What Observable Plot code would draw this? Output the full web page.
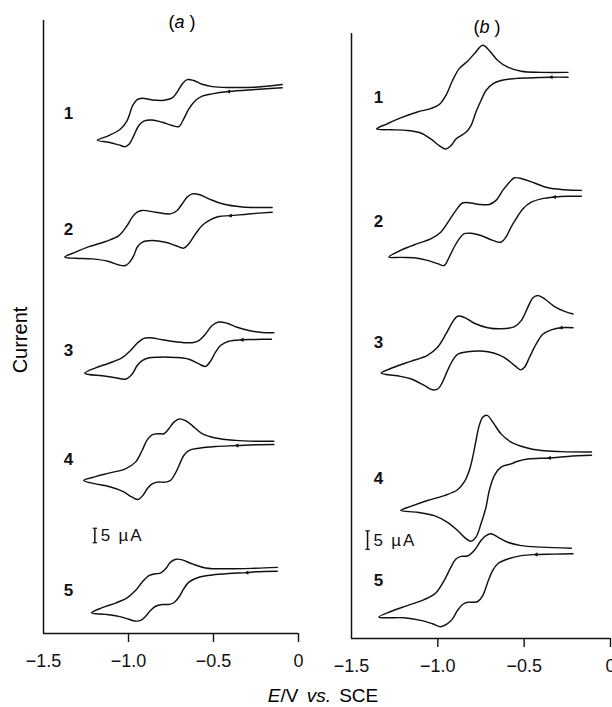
<!DOCTYPE html>
<html><head><meta charset="utf-8">
<script src="https://cdn.jsdelivr.net/npm/d3@7"></script>
<script src="https://cdn.jsdelivr.net/npm/@observablehq/plot@0.6"></script>
<style>
body{margin:0;background:#fff;}
#fig{position:relative;width:612px;height:707px;overflow:hidden;font-family:"Liberation Sans",Arial,Helvetica,sans-serif;color:#000;background:#fff;}
#fig .p{position:absolute;top:0;}
.t{position:absolute;white-space:nowrap;transform:translate(-50%,-50%);}
</style></head><body>
<div id="fig">
  <div class="p" id="pa" style="left:0px"></div>
  <div class="p" id="pb" style="left:306px"></div>
  <div class="t" style="left:182px;top:22px;font-size:18px;">(<i>a</i> )</div>
  <div class="t" style="left:487px;top:27px;font-size:18px;">(<i>b</i> )</div>
  <div class="t" style="left:20px;top:340px;font-size:20px;transform:translate(-50%,-50%) rotate(-90deg);">Current</div>
  <div class="t" style="left:323px;top:696px;font-size:19px;word-spacing:3px;"><i>E</i>/V <i>vs.</i> SCE</div>
</div>
<script>
// Potential E (V vs. SCE) and current (µA, stacked with offsets), in scan order:
// lower branch from the start (right) to the switching point, then the upper branch back.
const traceLabels = ["1", "2", "3", "4", "5"];
const xTicks = [-1.5, -1.0, -0.5, 0];
const scaleBarMicroA = 5;

// Panel (a)
const a1 = [[-0.096,188.2],[-0.253,187.6],[-0.410,186.9],[-0.508,186.1],[-0.567,185.3],[-0.606,183.8],[-0.645,180.9],[-0.675,177.5],[-0.704,174.8],[-0.743,175.2],[-0.802,176.3],[-0.861,177.1],[-0.910,176.7],[-0.939,175.2],[-0.969,171.7],[-0.994,168.9],[-1.018,167.9],[-1.057,168.5],[-1.116,169.4],
  [-1.184,170.1],
  [-1.116,171.7],[-1.047,174.0],[-1.008,176.9],[-0.975,182.1],[-0.949,184.1],[-0.920,184.6],[-0.861,184.0],[-0.792,183.9],[-0.743,184.7],[-0.714,186.7],[-0.684,189.5],[-0.655,191.0],[-0.616,190.7],[-0.567,189.4],[-0.508,188.6],[-0.410,188.3],[-0.253,188.4],[-0.096,189.3]];
const a2 = [[-0.155,145.3],[-0.292,144.7],[-0.400,144.1],[-0.469,143.8],[-0.527,142.4],[-0.567,140.7],[-0.606,137.8],[-0.645,134.4],[-0.675,132.9],[-0.724,133.8],[-0.782,134.9],[-0.861,135.5],[-0.920,134.9],[-0.949,133.2],[-0.969,130.3],[-0.994,128.0],[-1.018,126.9],[-1.057,127.1],[-1.116,128.3],[-1.214,129.2],[-1.312,129.4],
  [-1.375,129.8],
  [-1.312,131.5],[-1.233,133.4],[-1.135,135.2],[-1.057,137.2],[-1.008,140.7],[-0.978,143.6],[-0.949,145.3],[-0.920,145.9],[-0.841,145.3],[-0.753,144.7],[-0.714,145.9],[-0.684,148.2],[-0.655,150.5],[-0.625,151.6],[-0.586,151.4],[-0.527,149.9],[-0.449,148.2],[-0.331,147.1],[-0.155,146.9]];
const a3 = [[-0.159,101.5],[-0.253,101.4],[-0.331,101.3],[-0.410,100.8],[-0.459,99.3],[-0.488,97.0],[-0.518,93.9],[-0.547,92.1],[-0.586,93.0],[-0.645,94.6],[-0.724,95.2],[-0.822,95.3],[-0.880,95.1],[-0.920,94.1],[-0.949,92.4],[-0.978,89.5],[-1.018,87.7],[-1.076,88.2],[-1.155,88.9],[-1.233,89.3],
  [-1.257,89.8],
  [-1.194,91.6],[-1.116,93.2],[-1.037,95.1],[-0.988,97.6],[-0.949,100.1],[-0.910,101.8],[-0.871,102.0],[-0.802,101.3],[-0.724,100.6],[-0.625,100.3],[-0.586,101.0],[-0.547,103.3],[-0.508,106.2],[-0.469,107.4],[-0.420,107.0],[-0.361,105.6],[-0.292,104.5],[-0.214,103.8],[-0.145,103.7]];
const a4 = [[-0.145,65.2],[-0.253,65.1],[-0.361,64.8],[-0.488,64.5],[-0.586,63.9],[-0.645,63.1],[-0.675,61.4],[-0.694,59.1],[-0.724,55.3],[-0.753,52.8],[-0.782,52.2],[-0.831,52.2],[-0.861,51.6],[-0.890,49.9],[-0.916,47.6],[-0.943,46.2],[-0.978,47.0],[-1.037,49.1],[-1.116,50.7],[-1.194,51.6],
  [-1.263,52.8],
  [-1.194,54.1],[-1.116,55.3],[-1.018,56.8],[-0.959,59.1],[-0.920,63.1],[-0.890,66.8],[-0.861,68.5],[-0.822,68.9],[-0.792,68.9],[-0.763,70.6],[-0.733,72.9],[-0.700,74.0],[-0.665,73.4],[-0.625,71.7],[-0.567,68.9],[-0.488,67.4],[-0.371,66.6],[-0.253,66.3],[-0.145,66.3]];
const a5 = [[-0.125,21.5],[-0.253,21.3],[-0.302,21.0],[-0.410,20.7],[-0.508,20.2],[-0.586,19.4],[-0.645,17.7],[-0.675,15.4],[-0.704,12.5],[-0.733,10.6],[-0.763,10.0],[-0.802,10.0],[-0.841,9.4],[-0.871,7.9],[-0.900,5.9],[-0.929,4.5],[-0.963,4.3],[-0.998,4.9],[-1.057,5.9],[-1.135,6.6],
  [-1.218,7.1],
  [-1.155,8.9],[-1.076,10.5],[-1.008,12.3],[-0.959,14.8],[-0.920,17.7],[-0.880,20.0],[-0.841,20.6],[-0.812,20.8],[-0.782,22.3],[-0.753,24.6],[-0.720,25.6],[-0.684,25.4],[-0.625,24.0],[-0.547,22.6],[-0.410,22.3],[-0.253,22.5],[-0.125,22.8]];
const arrowsA = [-0.41, -0.40, -0.33, -0.36, -0.30];

// Panel (b)
const b1 = [[-0.246,151.7],[-0.343,151.7],[-0.479,151.5],[-0.556,151.3],[-0.634,150.8],[-0.682,149.9],[-0.721,148.1],[-0.750,145.4],[-0.779,142.3],[-0.808,138.6],[-0.837,136.8],[-0.866,135.9],[-0.895,135.0],[-0.924,133.2],[-0.953,132.3],[-0.992,133.2],[-1.041,135.0],[-1.099,136.6],[-1.176,137.3],[-1.273,137.5],
  [-1.355,137.7],
  [-1.293,139.1],[-1.215,140.7],[-1.118,142.3],[-1.041,143.2],[-0.992,144.3],[-0.953,146.8],[-0.915,150.8],[-0.876,154.0],[-0.828,156.0],[-0.789,158.0],[-0.740,160.3],[-0.702,158.9],[-0.653,156.2],[-0.595,154.4],[-0.517,153.3],[-0.401,153.0],[-0.246,153.0]];
const b2 = [[-0.169,119.5],[-0.246,119.5],[-0.324,119.3],[-0.401,118.8],[-0.459,117.9],[-0.508,116.1],[-0.547,113.4],[-0.576,111.2],[-0.605,108.5],[-0.634,107.1],[-0.682,107.6],[-0.750,108.9],[-0.808,109.5],[-0.847,109.4],[-0.876,108.0],[-0.905,105.8],[-0.934,103.1],[-0.963,100.8],[-1.002,101.3],[-1.060,102.2],[-1.138,102.9],[-1.215,103.0],
  [-1.283,103.1],
  [-1.215,104.9],[-1.118,106.7],[-1.041,108.0],[-0.983,109.8],[-0.934,113.0],[-0.895,115.7],[-0.857,117.7],[-0.808,117.7],[-0.760,117.3],[-0.702,117.3],[-0.663,118.4],[-0.624,121.1],[-0.585,123.3],[-0.556,124.5],[-0.508,124.2],[-0.440,123.1],[-0.362,121.8],[-0.266,121.3],[-0.169,121.1]];
const b3 = [[-0.217,84.0],[-0.285,84.0],[-0.343,83.4],[-0.391,82.3],[-0.430,79.6],[-0.469,76.0],[-0.498,73.3],[-0.521,72.6],[-0.556,73.8],[-0.614,75.9],[-0.672,77.1],[-0.750,77.7],[-0.828,77.5],[-0.886,76.8],[-0.915,75.1],[-0.944,72.4],[-0.973,69.3],[-0.998,67.5],[-1.031,67.2],[-1.079,68.4],[-1.157,70.2],[-1.234,71.0],
  [-1.328,71.7],
  [-1.254,73.3],[-1.157,74.9],[-1.060,76.5],[-1.002,78.7],[-0.953,82.3],[-0.915,85.5],[-0.886,87.1],[-0.847,86.8],[-0.789,85.2],[-0.711,84.0],[-0.634,83.7],[-0.556,84.3],[-0.517,85.9],[-0.479,89.5],[-0.450,92.0],[-0.421,92.7],[-0.382,91.8],[-0.324,89.7],[-0.266,88.4],[-0.217,87.7]];
const b4 = [[-0.110,49.5],[-0.246,49.2],[-0.353,48.8],[-0.479,48.5],[-0.537,47.9],[-0.576,47.2],[-0.634,46.3],[-0.672,44.1],[-0.702,40.0],[-0.721,35.5],[-0.750,31.0],[-0.779,27.4],[-0.808,26.3],[-0.847,27.4],[-0.886,29.2],[-0.944,31.4],[-1.021,33.2],[-1.118,34.1],
  [-1.215,34.6],
  [-1.157,35.7],[-1.060,37.3],[-0.963,38.6],[-0.886,40.2],[-0.847,42.3],[-0.818,45.4],[-0.798,49.0],[-0.779,53.5],[-0.760,57.6],[-0.740,59.8],[-0.715,60.3],[-0.682,58.5],[-0.634,55.3],[-0.576,53.1],[-0.498,51.7],[-0.401,50.8],[-0.285,50.5],[-0.110,50.4]];
const b5 = [[-0.217,22.9],[-0.324,22.8],[-0.430,22.7],[-0.517,22.4],[-0.595,21.5],[-0.653,20.2],[-0.682,18.4],[-0.711,15.2],[-0.740,11.6],[-0.769,10.0],[-0.798,9.8],[-0.828,9.8],[-0.857,9.2],[-0.886,7.6],[-0.915,5.3],[-0.944,4.0],[-0.983,3.2],[-1.031,4.0],[-1.099,4.9],[-1.196,5.6],[-1.293,5.6],
  [-1.341,5.8],
  [-1.273,7.3],[-1.176,8.9],[-1.079,10.5],[-1.012,12.3],[-0.963,15.7],[-0.924,19.3],[-0.895,21.5],[-0.866,22.2],[-0.828,22.3],[-0.789,23.8],[-0.750,26.5],[-0.721,27.8],[-0.692,28.3],[-0.653,27.4],[-0.595,26.0],[-0.517,25.1],[-0.401,24.7],[-0.227,24.4]];
const arrowsB = [-0.34, -0.32, -0.29, -0.35, -0.43];

function panel(cfg) {
  const {traces, arrows, yMax, width, height, mL, mR, mT, mB, labelE, barE, barMid} = cfg;
  const marks = [];
  // axes
  marks.push(Plot.ruleX([-1.5], {stroke: "#111", strokeWidth: 1.5}));
  marks.push(Plot.ruleY([0], {stroke: "#111", strokeWidth: 1.5}));
  marks.push(Plot.axisX({ticks: xTicks.slice(1), tickSize: 9, strokeWidth: 1.4, label: null, tickFormat: () => ""}));
  marks.push(Plot.axisX({ticks: xTicks, tickSize: 0, tickPadding: 21, fontSize: 18, label: null,
    tickFormat: d => d === 0 ? "0" : d3.format(".1f")(d)}));
  // traces
  traces.forEach(t => {
    marks.push(Plot.line(t, {x: d => d[0], y: d => d[1], curve: "catmull-rom", stroke: "#111", strokeWidth: 1.45}));
  });
  // scan direction arrows on the lower branch
  const arrowPts = traces.map((t, i) => {
    const tip = d3.minIndex(t, d => d[0]);
    return d3.least(t.slice(0, tip), d => Math.abs(d[0] - arrows[i]));
  });
  marks.push(Plot.dot(arrowPts, {x: d => d[0], y: d => d[1], symbol: "triangle", r: 1.6, fill: "#111", stroke: "none", rotate: -90}));
  // trace numbers
  const labs = traces.map((t, i) => {
    const [lo, hi] = d3.extent(t, d => d[1]);
    return {text: traceLabels[i], E: labelE, I: (lo + hi) / 2};
  });
  marks.push(Plot.text(labs, {x: "E", y: "I", text: "text", fontWeight: "bold", fontSize: 17}));
  // scale bar
  const lo = barMid - scaleBarMicroA / 2, hi = barMid + scaleBarMicroA / 2;
  marks.push(Plot.link([0], {x1: barE, x2: barE, y1: lo, y2: hi, stroke: "#111", strokeWidth: 1.5}));
  marks.push(Plot.link([lo, hi], {x1: barE - 0.013, x2: barE + 0.013, y1: d => d, y2: d => d, stroke: "#111", strokeWidth: 1.2}));
  marks.push(Plot.text([`${scaleBarMicroA} µA`], {x: barE, y: barMid, text: d => d, textAnchor: "start", dx: 6, fontSize: 17, className: "sbar"}));
  const svg = Plot.plot({
    width, height, marginLeft: mL, marginRight: mR, marginTop: mT, marginBottom: mB,
    x: {domain: [-1.5, 0]},
    y: {domain: [0, yMax], axis: null},
    style: {fontFamily: "'Liberation Sans', Arial, Helvetica, sans-serif", fontSize: "18px", background: "transparent", color: "#111", overflow: "visible"},
    marks
  });
  d3.select(svg).selectAll(".sbar text").attr("letter-spacing", "1.8px");
  return svg;
}

document.getElementById("pa").append(panel({
  traces: [a1, a2, a3, a4, a5], arrows: arrowsA, yMax: 211.4,
  width: 306, height: 673, mL: 43, mR: 8, mT: 20, mB: 40,
  labelE: -1.353, barE: -1.198, barMid: 33.8
}));
document.getElementById("pb").append(panel({
  traces: [b1, b2, b3, b4, b5], arrows: arrowsB, yMax: 163.5,
  width: 306, height: 678, mL: 45, mR: 2, mT: 33, mB: 40,
  labelE: -1.343, barE: -1.407, barMid: 26.6
}));
</script>
</body></html>
